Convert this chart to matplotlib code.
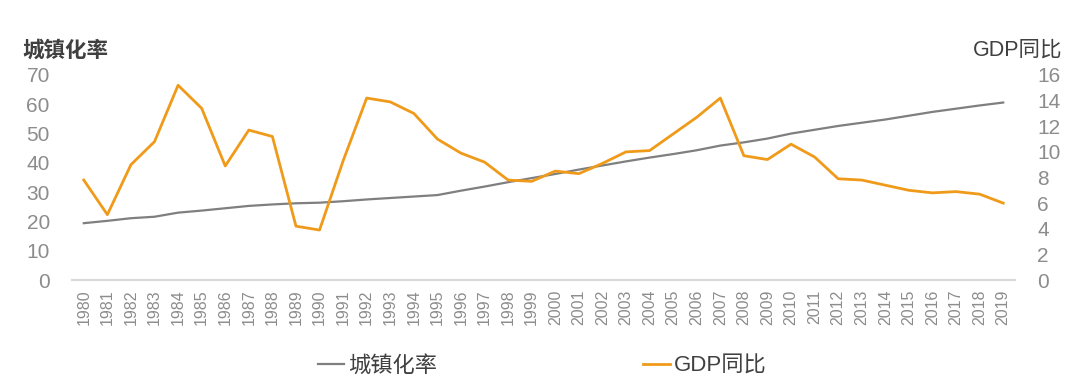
"""China urbanisation rate vs. GDP growth, 1980-2019."""

import matplotlib
matplotlib.use("Agg")
import matplotlib.pyplot as plt
from matplotlib.lines import Line2D

plt.rcParams["font.family"] = ["Liberation Sans", "Noto Sans CJK SC", "DejaVu Sans"]

years = [str(y) for y in range(1980, 2020)]
urban_rate = [19.4, 20.2, 21.1, 21.6, 23.0, 23.7, 24.5, 25.3, 25.8, 26.2,
              26.4, 26.9, 27.5, 28.0, 28.5, 29.0, 30.5, 31.9, 33.4, 34.8,
              36.2, 37.7, 39.1, 40.5, 41.8, 43.0, 44.3, 45.9, 47.0, 48.3,
              50.0, 51.3, 52.6, 53.7, 54.8, 56.1, 57.4, 58.5, 59.6, 60.6]
gdp_yoy = [7.8, 5.1, 9.0, 10.8, 15.2, 13.4, 8.9, 11.7, 11.2, 4.2,
           3.9, 9.3, 14.2, 13.9, 13.0, 11.0, 9.9, 9.2, 7.8, 7.7,
           8.5, 8.3, 9.1, 10.0, 10.1, 11.4, 12.7, 14.2, 9.7, 9.4,
           10.6, 9.6, 7.9, 7.8, 7.4, 7.0, 6.8, 6.9, 6.7, 6.0]

GREY = "#7f7f7f"
ORANGE = "#F09A1A"
TICK = "#8c8c8c"
TEXT = "#404040"

fig = plt.figure(figsize=(10.8, 3.8), dpi=100)
ax = fig.add_axes((72 / 1080, 1 - 280 / 380, (1015 - 72) / 1080, 205 / 380))
ax2 = ax.twinx()

x = range(len(years))
ax.plot(x, urban_rate, color=GREY, linewidth=1.6)
ax2.plot(x, gdp_yoy, color=ORANGE, linewidth=2.0)

ax.set_xlim(-0.5, len(years) - 0.5)
ax.set_ylim(0, 70)
ax.set_yticks(range(0, 71, 10))
ax2.set_ylim(0, 16)
ax2.set_yticks(range(0, 17, 2))
ax.set_xticks(list(x))
ax.set_xticklabels(years, rotation=90)

for a in (ax, ax2):
    for s in a.spines.values():
        s.set_visible(False)
ax.spines["bottom"].set_visible(True)
ax.spines["bottom"].set_color("#d9d9d9")
ax.spines["bottom"].set_linewidth(1.5)

ax.tick_params(axis="x", length=0, pad=7, labelsize=11.5, labelcolor=TICK)
ax.tick_params(axis="y", length=0, pad=16, labelsize=15, labelcolor=TICK)
ax2.tick_params(axis="y", length=0, pad=16, labelsize=15, labelcolor=TICK)
ax.patch.set_alpha(0)

fig.text(22 / 1080, 1 - 51 / 380, "城镇化率", fontsize=15.5, color=TEXT,
         ha="left", va="center", fontweight="bold")
fig.text(1062 / 1080, 1 - 50 / 380, "GDP同比", fontsize=15.5, color=TEXT,
         ha="right", va="center")

handles = [Line2D([0], [0], color=GREY, linewidth=1.6, label="城镇化率"),
           Line2D([0], [0], color=ORANGE, linewidth=2.0, label="GDP同比")]
fig.legend(handles=handles, loc="center", ncol=2, frameon=False,
           fontsize=16, labelcolor=TEXT, handlelength=1.2, handletextpad=0.15,
           columnspacing=9.3, bbox_to_anchor=(542 / 1080, 1 - 366 / 380))

fig.savefig("out.png", dpi=100)
